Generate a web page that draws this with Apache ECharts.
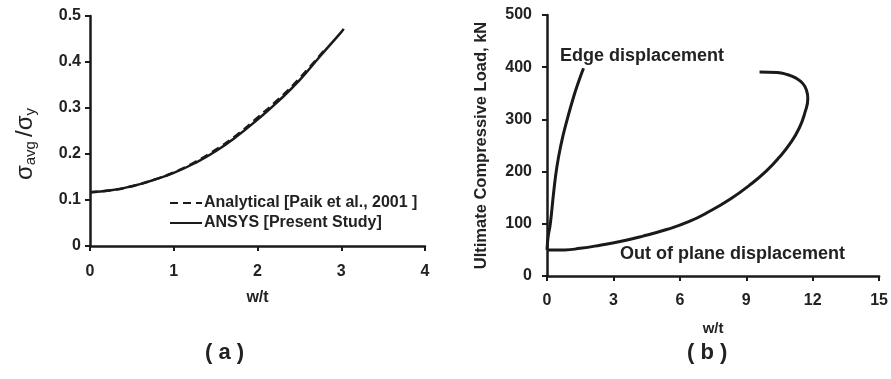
<!DOCTYPE html>
<html>
<head>
<meta charset="utf-8">
<script src="https://cdn.jsdelivr.net/npm/echarts@6/dist/echarts.min.js"></script>
<style>
  html, body { margin: 0; padding: 0; background: #fff; }
  #main { width: 891px; height: 379px; }
</style>
</head>
<body>
<div id="main"></div>
<script>
// (a) sigma_avg / sigma_y vs w/t
var ansysX = [0, 0.25, 0.5, 0.75, 1, 1.25, 1.5, 1.75, 2, 2.25, 2.5, 2.75, 3, 3.03];
var ansysY = [0.117, 0.121, 0.130, 0.143, 0.159, 0.180, 0.206, 0.238, 0.275, 0.315, 0.360, 0.413, 0.465, 0.472];
var paikX = [0, 0.25, 0.5, 0.75, 1, 1.25, 1.5, 1.75, 2, 2.25, 2.5, 2.8];
var paikY = [0.117, 0.121, 0.130, 0.143, 0.160, 0.182, 0.209, 0.241, 0.279, 0.319, 0.364, 0.426];

// (b) load vs w/t
var edgeX = [0, 0.05, 0.15, 0.3, 0.45, 0.65, 0.85, 1.2, 1.45, 1.65];
var edgeY = [50, 75, 100, 160, 210, 255, 290, 343, 375, 398];
var outX = [0, 0.8, 1.5, 2.4, 3.3, 4.3, 5.4, 6.4, 7.35, 8.3, 9.15, 9.9, 10.5, 11.0, 11.4, 11.65, 11.78, 11.72, 11.55, 11.25, 10.85, 10.4, 9.6];
var outY = [50, 50, 53, 59, 66, 76, 89, 104, 124, 148, 174, 201, 228, 255, 284, 313, 340, 356, 369, 379, 386, 390, 391];

var aTicks = { x: [0, 4, 1], y: [0, 0.5, 0.1] };
var bTicks = { x: [0, 15, 3], y: [0, 500, 100] };

function pairs(xs, ys) {
    return xs.map(function (x, i) { return [x, ys[i]]; });
}

var FONT = '"Liberation Sans", Arial, sans-serif';
var INK = '#1a1a1a';

function axis(range, extra, labelMargin) {
    var a = {
        type: 'value',
        min: range[0], max: range[1], interval: range[2],
        splitLine: { show: false },
        axisLine: { lineStyle: { color: INK, width: 2.5 } },
        axisTick: { lineStyle: { color: INK, width: 2 }, length: 5 },
        axisLabel: { color: '#222', fontFamily: FONT, fontWeight: 'bold', fontSize: 16, margin: labelMargin }
    };
    for (var k in extra) a[k] = extra[k];
    return a;
}

var myChart = echarts.init(document.getElementById('main'));

var option = {
    backgroundColor: '#fff',
    animation: false,
    grid: [
        { left: 90, right: 466, top: 16, bottom: 133 },
        { left: 547, right: 11, top: 15, bottom: 103 }
    ],
    xAxis: [
        axis(aTicks.x, {
            gridIndex: 0, name: 'w/t', nameLocation: 'middle', nameGap: 44,
            nameTextStyle: { color: '#222', fontFamily: FONT, fontWeight: 'bold', fontSize: 16 }
        }, 18),
        axis(bTicks.x, {
            gridIndex: 1, name: 'w/t', nameLocation: 'middle', nameGap: 45,
            nameTextStyle: { color: '#222', fontFamily: FONT, fontWeight: 'bold', fontSize: 15 }
        }, 17)
    ],
    yAxis: [
        axis(aTicks.y, {
            gridIndex: 0, name: '{s|σ}{b|avg }{s|/σ}{b|y}', nameLocation: 'middle', nameGap: 52,
            nameTextStyle: {
                color: '#222', fontFamily: FONT, padding: [0, 26, 0, 0],
                rich: {
                    s: { fontSize: 24, fontFamily: FONT, color: '#222' },
                    b: { fontSize: 15, fontFamily: FONT, color: '#222', verticalAlign: 'bottom', padding: [11, 0, 0, 0] }
                }
            }
        }, 9),
        axis(bTicks.y, {
            gridIndex: 1, name: 'Ultimate Compressive Load, kN', nameLocation: 'middle', nameGap: 57,
            nameTextStyle: { color: '#222', fontFamily: FONT, fontWeight: 'bold', fontSize: 16.5 }
        }, 15)
    ],
    legend: {
        data: ['Analytical [Paik et al., 2001 ]', 'ANSYS [Present Study]'],
        orient: 'vertical', left: 164, top: 190,
        itemWidth: 32, itemHeight: 10, itemGap: 4,
        itemStyle: { opacity: 0 },
        textStyle: { color: '#222', fontFamily: FONT, fontWeight: 'bold', fontSize: 16, padding: [0, 0, 0, -3] }
    },
    graphic: [
        { type: 'text', left: 560, top: 47, style: { text: 'Edge displacement', font: 'bold 18px ' + FONT, fill: '#222' } },
        { type: 'text', left: 620, top: 245, style: { text: 'Out of plane displacement', font: 'bold 18px ' + FONT, fill: '#222' } },
        { type: 'text', left: 205, top: 342, style: { text: '( a )', font: 'bold 22px ' + FONT, fill: '#222' } },
        { type: 'text', left: 687, top: 342, style: { text: '( b )', font: 'bold 22px ' + FONT, fill: '#222' } }
    ],
    series: [
        {
            name: 'Analytical [Paik et al., 2001 ]', type: 'line', xAxisIndex: 0, yAxisIndex: 0,
            data: pairs(paikX, paikY), smooth: true, symbol: 'none', z: 3,
            lineStyle: { color: INK, width: 2.5, type: [8, 5] }, itemStyle: { color: INK }
        },
        {
            name: 'ANSYS [Present Study]', type: 'line', xAxisIndex: 0, yAxisIndex: 0,
            data: pairs(ansysX, ansysY), smooth: true, symbol: 'none', z: 4,
            lineStyle: { color: INK, width: 2.5 }, itemStyle: { color: INK }
        },
        {
            name: 'Edge displacement', type: 'line', xAxisIndex: 1, yAxisIndex: 1,
            data: pairs(edgeX, edgeY), smooth: true, symbol: 'none',
            lineStyle: { color: INK, width: 3 }
        },
        {
            name: 'Out of plane displacement', type: 'line', xAxisIndex: 1, yAxisIndex: 1,
            data: pairs(outX, outY), smooth: 0.5, symbol: 'none',
            lineStyle: { color: INK, width: 3 }
        }
    ]
};

myChart.setOption(option);
</script>
</body>
</html>
